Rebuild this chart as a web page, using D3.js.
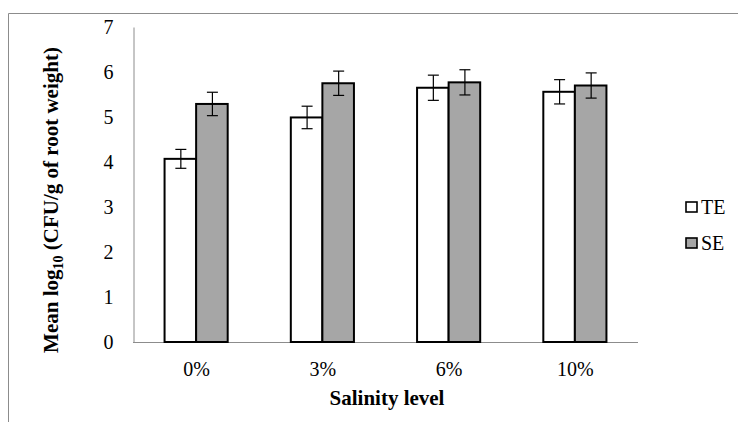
<!DOCTYPE html>
<html>
<head>
<meta charset="utf-8">
<script src="https://cdn.jsdelivr.net/npm/d3@7"></script>
<style>
  html, body { margin: 0; padding: 0; background: #fff; }
  svg { display: block; }
  text { font-family: "Liberation Serif", "Times New Roman", serif; }
</style>
</head>
<body>
<svg id="chart" width="738" height="427" font-family="Liberation Serif, serif"></svg>
<script>
// Salinity levels and bacterial counts (mean log10 CFU/g root weight)
const categories = ["0%", "3%", "6%", "10%"];
const seriesNames = ["TE", "SE"];
const teValues = [4.07, 4.99, 5.65, 5.56];
const seValues = [5.29, 5.75, 5.77, 5.70];
const teErrors = [0.21, 0.25, 0.28, 0.27];
const seErrors = [0.26, 0.27, 0.28, 0.28];
const yTicks = [0, 1, 2, 3, 4, 5, 6, 7];

const fills = { TE: "#ffffff", SE: "#a6a6a6" };
const serif = "'Liberation Serif', 'Times New Roman', serif";

const svg = d3.select("#chart");
const plot = { left: 133, right: 638, top: 27, bottom: 342 };

// Outer frame (top and left edges)
svg.append("path")
  .attr("d", `M8.5,422 V13.5 H738`)
  .attr("fill", "none")
  .attr("stroke", "#8c8c8c")
  .attr("stroke-width", 1);

const x = d3.scaleBand()
  .domain(categories)
  .range([plot.left, plot.right])
  .paddingInner(0.5)
  .paddingOuter(0.25);

const xSub = d3.scaleBand()
  .domain(seriesNames)
  .range([0, x.bandwidth()]);

const y = d3.scaleLinear()
  .domain([0, 7])
  .range([plot.bottom, plot.top]);

// Y axis
const yAxis = svg.append("g")
  .attr("transform", `translate(${plot.left + 0.5},0)`)
  .call(d3.axisLeft(y).tickValues(yTicks).tickSize(0).tickPadding(20).tickFormat(d3.format("d")))
  .attr("font-family", serif)
  .attr("font-size", 20);
yAxis.select(".domain").attr("stroke", "#8c8c8c");
yAxis.selectAll("text").attr("fill", "#000");

// X axis (category labels centred under each group)
const xAxis = svg.append("g")
  .attr("transform", `translate(0,${plot.bottom + 0.5})`)
  .call(d3.axisBottom(d3.scalePoint().domain(categories)
    .range([x(categories[0]) + x.bandwidth() / 2, x(categories[3]) + x.bandwidth() / 2]))
    .tickSize(0).tickPadding(19))
  .attr("font-family", serif)
  .attr("font-size", 20);
xAxis.select(".domain").remove();
xAxis.selectAll("text").attr("fill", "#000");
svg.append("line")
  .attr("x1", plot.left).attr("x2", plot.right)
  .attr("y1", plot.bottom + 0.5).attr("y2", plot.bottom + 0.5)
  .attr("stroke", "#8c8c8c");

// Bars
const rows = categories.map((c, i) => ({
  cat: c,
  items: [
    { name: "TE", value: teValues[i], err: teErrors[i] },
    { name: "SE", value: seValues[i], err: seErrors[i] }
  ]
}));

const groups = svg.append("g").selectAll("g")
  .data(rows)
  .join("g")
  .attr("transform", d => `translate(${x(d.cat)},0)`);

groups.selectAll("rect")
  .data(d => d.items)
  .join("rect")
  .attr("x", d => xSub(d.name))
  .attr("y", d => y(d.value))
  .attr("width", xSub.bandwidth())
  .attr("height", d => y(0) - y(d.value))
  .attr("fill", d => fills[d.name])
  .attr("stroke", "#000")
  .attr("stroke-width", 2);

// Error bars
const eb = groups.selectAll("g.err")
  .data(d => d.items)
  .join("g")
  .attr("class", "err")
  .attr("transform", d => `translate(${xSub(d.name) + xSub.bandwidth() / 2},0)`);
eb.append("line")
  .attr("x1", 0.5).attr("x2", 0.5)
  .attr("y1", d => y(d.value + d.err))
  .attr("y2", d => y(d.value - d.err))
  .attr("stroke", "#000").attr("stroke-width", 1.2);
eb.selectAll("line.cap")
  .data(d => [d.value + d.err, d.value - d.err])
  .join("line")
  .attr("class", "cap")
  .attr("x1", -5).attr("x2", 6)
  .attr("y1", v => y(v)).attr("y2", v => y(v))
  .attr("stroke", "#000").attr("stroke-width", 1.2);

// Legend
const legend = svg.append("g").attr("transform", "translate(686,0)");
const legY = [207, 243];
seriesNames.forEach((name, i) => {
  legend.append("rect")
    .attr("x", 0).attr("y", legY[i] - 5)
    .attr("width", 11).attr("height", 10)
    .attr("fill", fills[name])
    .attr("stroke", "#000").attr("stroke-width", 1.6);
  legend.append("text")
    .attr("x", 15).attr("y", legY[i])
    .attr("dy", "0.35em")
    .attr("font-size", 20)
    .text(name);
});

// Axis titles
svg.append("text")
  .attr("x", 387).attr("y", 405)
  .attr("text-anchor", "middle")
  .attr("font-size", 21)
  .attr("font-weight", "bold")
  .text("Salinity level");

const yTitle = svg.append("text")
  .attr("transform", "translate(58,200) rotate(-90)")
  .attr("text-anchor", "middle")
  .attr("font-size", 21)
  .attr("font-weight", "bold");
yTitle.append("tspan").text("Mean log");
yTitle.append("tspan").attr("font-size", 14).attr("dy", 5).text("10");
yTitle.append("tspan").attr("dy", -5).text(" (CFU/g of root weight)");
</script>
</body>
</html>
